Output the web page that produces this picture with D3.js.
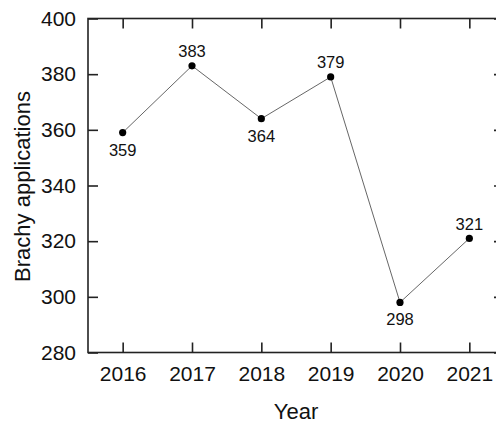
<!DOCTYPE html>
<html><head><meta charset="utf-8">
<script src="https://cdn.jsdelivr.net/npm/d3@7"></script>
<style>html,body{margin:0;padding:0;background:#fff;overflow:hidden}</style>
</head><body>
<svg id="c" width="496" height="423"></svg>
<script>
const years = [2016, 2017, 2018, 2019, 2020, 2021];
const applications = [359, 383, 364, 379, 298, 321];
const labelPos = ["below", "above", "below", "above", "below", "above"];
const yTicks = [280, 300, 320, 340, 360, 380, 400];

const svg = d3.select("#c");
const L = 88, R = 504, T = 18.5, B = 352.5;
const x = d3.scaleLinear().domain([2015.5, 2021.5]).range([L, R]);
const y = d3.scaleLinear().domain([280, 400]).range([B, T]);
const font = "Arial, 'Liberation Sans', sans-serif";

// frame
svg.append("rect").attr("x", L).attr("y", T).attr("width", R - L).attr("height", B - T)
  .attr("fill", "none").attr("stroke", "#222").attr("stroke-width", 1.6);

const gBottom = svg.append("g").attr("transform", `translate(0,${B})`)
  .call(d3.axisBottom(x).tickValues(years).tickFormat(d3.format("d")).tickSizeInner(-10).tickSizeOuter(0).tickPadding(14));
const gTop = svg.append("g").attr("transform", `translate(0,${T})`)
  .call(d3.axisTop(x).tickValues(years).tickFormat("").tickSizeInner(-10).tickSizeOuter(0));
const gLeft = svg.append("g").attr("transform", `translate(${L},0)`)
  .call(d3.axisLeft(y).tickValues(yTicks).tickSizeInner(-10).tickSizeOuter(0).tickPadding(12));
const gRight = svg.append("g").attr("transform", `translate(${R},0)`)
  .call(d3.axisRight(y).tickValues(yTicks).tickFormat("").tickSizeInner(-10).tickSizeOuter(0));
[gBottom, gTop, gLeft, gRight].forEach(g => {
  g.select(".domain").remove();
  g.selectAll(".tick line").attr("stroke", "#222").attr("stroke-width", 1.6);
  g.selectAll("text").attr("fill", "#111").style("font-family", font).style("font-size", "21px");
});

// line
const line = d3.line().x((d, i) => x(years[i])).y(d => y(d));
svg.append("path").datum(applications).attr("d", line)
  .attr("fill", "none").attr("stroke", "#555").attr("stroke-width", 0.9);

svg.selectAll("circle.pt").data(applications).join("circle").attr("class", "pt")
  .attr("cx", (d, i) => x(years[i])).attr("cy", d => y(d)).attr("r", 3.6).attr("fill", "#000");

svg.selectAll("text.lbl").data(applications).join("text").attr("class", "lbl")
  .attr("x", (d, i) => x(years[i]))
  .attr("y", (d, i) => labelPos[i] === "above" ? y(d) - 8.5 : y(d) + 23)
  .attr("text-anchor", "middle").style("font-family", font).style("font-size", "16.5px").attr("fill", "#111")
  .text(d => d);

svg.append("text").attr("x", (L + R) / 2).attr("y", 419).attr("text-anchor", "middle")
  .style("font-family", font).style("font-size", "22px").attr("fill", "#111").text("Year");
svg.append("text").attr("transform", `translate(30,186.5) rotate(-90)`).attr("text-anchor", "middle")
  .style("font-family", font).style("font-size", "22px").attr("fill", "#111").text("Brachy applications");
</script>
</body></html>
